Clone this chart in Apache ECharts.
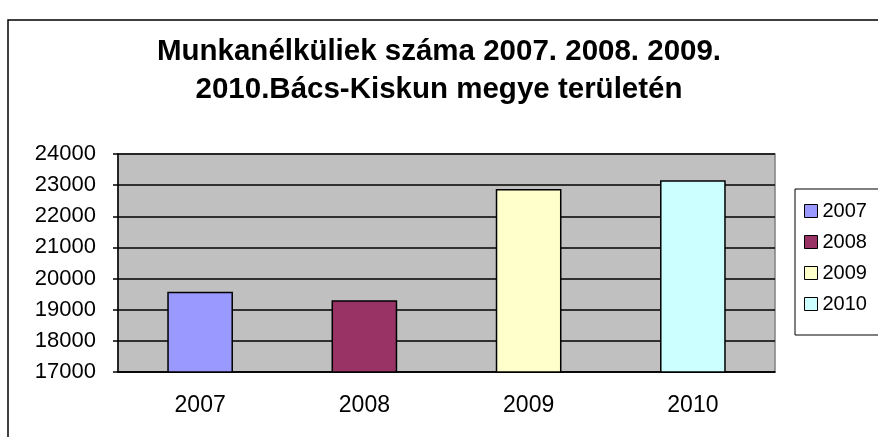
<!DOCTYPE html>
<html lang="hu">

<head>
    <meta charset="UTF-8">
    <title>Munkanélküliek</title>
    <script src="https://cdn.jsdelivr.net/npm/echarts@6/dist/echarts.min.js"></script>
    <style>
        body { margin: 0; background: #fff; }
    </style>
</head>

<body>
    <div id="container" style="width: 878px;height: 437px;"></div>

    <script>
        // adatok
        var years = ['2007', '2008', '2009', '2010'];
        var values = [19580, 19300, 22880, 23160];
        var colors = ['#9999FF', '#993366', '#FFFFCC', '#CCFFFF'];
        var titleText = 'Munkanélküliek száma 2007. 2008. 2009.\n2010.Bács-Kiskun megye területén';

        var myChart = echarts.init(document.getElementById('container'));
        var font = 'Liberation Sans, Arial, sans-serif';

        // minden évnek saját sorozata, hogy a jelmagyarázatban külön szerepeljen
        var series = years.map(function (y, i) {
            var d = years.map(function (c, j) { return j === i ? values[i] : null; });
            return {
                name: y,
                type: 'bar',
                stack: 'ev',
                barWidth: '40%',
                data: d,
                itemStyle: { color: colors[i], borderColor: '#000', borderWidth: 1.5 }
            };
        });

        var option = {
            animation: false,
            textStyle: { fontFamily: font },
            title: {
                text: titleText,
                left: 'center',
                top: 28,
                textStyle: { fontSize: 29.5, fontWeight: 'bold', color: '#000', lineHeight: 38, fontFamily: font }
            },
            graphic: [{
                type: 'rect',
                shape: { x: 8, y: 20, width: 900, height: 500 },
                style: { fill: 'none', stroke: '#000', lineWidth: 1.5 },
                silent: true
            }],
            legend: {
                orient: 'vertical',
                left: 795,
                top: 189,
                padding: [12, 20, 21, 9],
                itemGap: 11,
                itemWidth: 13,
                itemHeight: 13,
                borderColor: '#000',
                borderWidth: 1,
                icon: 'rect',
                data: years,
                textStyle: { fontSize: 20, color: '#000', fontFamily: font },
                itemStyle: { borderColor: '#000', borderWidth: 1 }
            },
            grid: {
                left: 118,
                right: 103,
                top: 154,
                bottom: 65,
                show: true,
                backgroundColor: '#C0C0C0',
                borderColor: '#808080',
                borderWidth: 1.5
            },
            xAxis: {
                type: 'category',
                data: years,
                axisLine: { lineStyle: { color: '#000', width: 1.5 } },
                axisTick: { length: 5, inside: false, lineStyle: { color: '#000', width: 1.5 } },
                axisLabel: { fontSize: 23, color: '#000', margin: 22 }
            },
            yAxis: {
                type: 'value',
                min: 17000,
                max: 24000,
                interval: 1000,
                axisLine: { show: true, lineStyle: { color: '#000', width: 1.5 } },
                axisTick: { show: true, length: 5, lineStyle: { color: '#000', width: 1.5 } },
                axisLabel: { fontSize: 22, color: '#000', margin: 22, formatter: function (v) { return String(v); } },
                splitLine: { lineStyle: { color: '#000', width: 1.5 } }
            },
            series: series
        };

        myChart.setOption(option);
    </script>
</body>

</html>
